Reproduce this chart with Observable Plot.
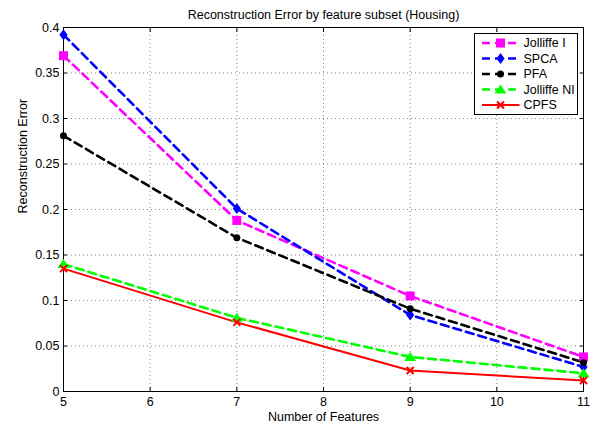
<!DOCTYPE html>
<html><head><meta charset="utf-8">
<script src="https://cdn.jsdelivr.net/npm/d3@7"></script>
<script src="https://cdn.jsdelivr.net/npm/@observablehq/plot@0.6"></script>
<style>body{margin:0;background:#fff;} #chart{position:relative;width:599px;height:426px;}</style>
</head><body><div id="chart"></div>
<script>
const features = [5, 7, 9, 11];
const jolliffeI = [0.369, 0.188, 0.105, 0.038];
const spca = [0.392, 0.201, 0.084, 0.027];
const pfa = [0.281, 0.169, 0.091, 0.032];
const jolliffeNI = [0.140, 0.081, 0.038, 0.020];
const cpfs = [0.135, 0.076, 0.023, 0.012];
const seriesNames = ["Jolliffe I", "SPCA", "PFA", "Jolliffe NI", "CPFS"];
const seriesValues = [jolliffeI, spca, pfa, jolliffeNI, cpfs];
const seriesColors = ["#ff00ff", "#0000ff", "#000000", "#00ff00", "#ff0000"];
const seriesDashed = [true, true, true, true, false];
const xTicks = [5, 6, 7, 8, 9, 10, 11];
const yTicks = [0, 0.05, 0.1, 0.15, 0.2, 0.25, 0.3, 0.35, 0.4];
const yTickLabels = ["0", "0.05", "0.1", "0.15", "0.2", "0.25", "0.3", "0.35", "0.4"];
const titleText = "Reconstruction Error by feature subset (Housing)";
const xLabel = "Number of Features";
const yLabel = "Reconstruction Error";

// marker shapes (scaled from r)
const R = 5;
const rOf = size => Math.sqrt(size / Math.PI);
const symSquare = {draw(c, size) { const s = rOf(size) * 0.9; c.rect(-s, -s, 2 * s, 2 * s); }};
const symDiamond = {draw(c, size) { const r = rOf(size), w = 0.82 * r, h = 1.1 * r; c.moveTo(0, -h); c.lineTo(w, 0); c.lineTo(0, h); c.lineTo(-w, 0); c.closePath(); }};
const symCircle = {draw(c, size) { const r = rOf(size) * 0.7; c.moveTo(r, 0); c.arc(0, 0, r, 0, 2 * Math.PI); }};
const symTriangle = {draw(c, size) { const r = rOf(size), w = 1.2 * r; c.moveTo(0, -1.0 * r); c.lineTo(w, 0.8 * r); c.lineTo(-w, 0.8 * r); c.closePath(); }};
const symTimes = {draw(c, size) { const r = rOf(size) * 0.7; c.moveTo(-r, -r); c.lineTo(r, r); c.moveTo(r, -r); c.lineTo(-r, r); }};
const seriesSymbols = [symSquare, symDiamond, symCircle, symTriangle, symTimes];
const strokeSymbol = [false, false, false, false, true];

const rows = seriesNames.map((name, i) => features.map((f, j) => ({name, x: f, y: seriesValues[i][j]})));

const font = "'Liberation Sans', Arial, Helvetica, sans-serif";
const FS = 12.5;
const marks = [
  Plot.gridX(xTicks, {stroke: "#555", strokeOpacity: 0.9, strokeWidth: 0.8, strokeDasharray: "1,3"}),
  Plot.gridY(yTicks, {stroke: "#555", strokeOpacity: 0.9, strokeWidth: 0.8, strokeDasharray: "1,3"}),
  Plot.frame({stroke: "#000", strokeWidth: 1}),
  Plot.axisX(xTicks, {anchor: "bottom", label: null, tickSize: 0, tickPadding: 6, fontSize: FS, fill: "#000"}),
  Plot.axisY(yTicks, {anchor: "left", label: null, tickSize: 0, tickPadding: 4, fontSize: FS, fill: "#000", tickFormat: (d, i) => yTickLabels[i]}),
  Plot.axisX(xTicks, {anchor: "bottom", label: null, tickSize: -4, fill: "none", stroke: "#000"}),
  Plot.axisX(xTicks, {anchor: "top", label: null, tickSize: -4, fill: "none", stroke: "#000"}),
  Plot.axisY(yTicks, {anchor: "left", label: null, tickSize: -4, fill: "none", stroke: "#000"}),
  Plot.axisY(yTicks, {anchor: "right", label: null, tickSize: -4, fill: "none", stroke: "#000"}),
  ...rows.map((r, i) => Plot.line(r, {x: "x", y: "y", stroke: seriesColors[i], strokeWidth: seriesDashed[i] ? 2.6 : 2, strokeDasharray: seriesDashed[i] ? "8,5" : null})),
  ...rows.map((r, i) => Plot.dot(r, {x: "x", y: "y", r: R, symbol: seriesSymbols[i],
      fill: strokeSymbol[i] ? "none" : seriesColors[i], stroke: strokeSymbol[i] ? seriesColors[i] : "none", strokeWidth: 2})),
  Plot.text([titleText], {text: d => d, frameAnchor: "top", lineAnchor: "middle", dy: -13, fontSize: FS, fill: "#000"}),
  Plot.text([xLabel], {text: d => d, frameAnchor: "bottom", lineAnchor: "middle", dy: 25, fontSize: FS, fill: "#000"}),
  Plot.text([yLabel], {text: d => d, frameAnchor: "left", lineAnchor: "middle", dx: -41, dy: 4, rotate: -90, fontSize: FS, fill: "#000"})
];

const chart = Plot.plot({
  width: 599, height: 426,
  marginLeft: 63, marginRight: 16, marginTop: 27, marginBottom: 35,
  style: {fontFamily: font, background: "#fff", color: "#000"},
  x: {domain: [5, 11], axis: null},
  y: {domain: [0, 0.4], axis: null},
  marks
});
document.getElementById("chart").appendChild(chart);

// legend
const svg = d3.select(chart);
const lg = svg.append("g").attr("transform", "translate(474.5,33.5)").style("font-family", font).attr("text-anchor", "start");
lg.append("rect").attr("width", 103).attr("height", 81).attr("fill", "#fff").attr("stroke", "#000").attr("stroke-width", 1);
seriesNames.forEach((name, i) => {
  const cy = 9.5 + i * 15.5;
  lg.append("line").attr("x1", 7.5).attr("x2", 45).attr("y1", cy).attr("y2", cy)
    .attr("stroke", seriesColors[i]).attr("stroke-width", seriesDashed[i] ? 2.6 : 2)
    .attr("stroke-dasharray", seriesDashed[i] ? "8,5" : null);
  lg.append("path").attr("transform", `translate(26,${cy})`)
    .attr("d", d3.symbol().type(seriesSymbols[i]).size(R * R * Math.PI)())
    .attr("fill", strokeSymbol[i] ? "none" : seriesColors[i])
    .attr("stroke", strokeSymbol[i] ? seriesColors[i] : "none").attr("stroke-width", 2);
  lg.append("text").attr("x", 49).attr("y", cy).attr("dy", "0.35em").attr("font-size", FS).attr("fill", "#000").attr("text-anchor", "start").text(name);
});
</script></body></html>
